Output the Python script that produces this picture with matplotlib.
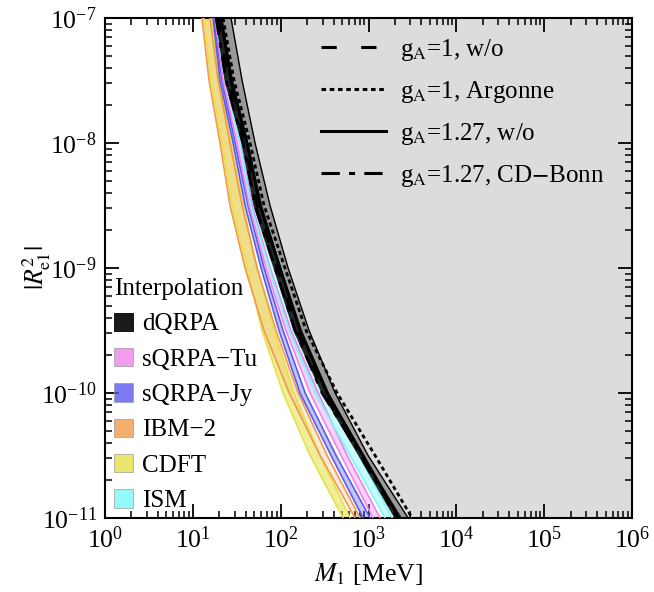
import matplotlib
matplotlib.use('Agg')
import matplotlib.pyplot as plt
from matplotlib.lines import Line2D
from matplotlib.patches import Patch

plt.rcParams['font.family'] = ['Liberation Serif', 'DejaVu Serif']
plt.rcParams['mathtext.fontset'] = 'stix'

# |R^2_e1| levels at which each curve is tabulated
R2 = [1e-7, 3.16e-8, 1e-8, 3.16e-9, 1e-9, 3.16e-10, 1e-10, 3.16e-11, 1e-11]

# M_1 [MeV] of band edges at those levels
cdft_lo = [13.4, 16.1, 21.5, 28.0, 41.5, 61.4, 106.5, 216, 514]
cdft_hi = [16.6, 19.9, 27.2, 37.3, 53.9, 84.1, 142, 281, 617]
ibm_lo = [12.7, 15.3, 20.4, 26.5, 39.3, 64.7, 125, 281, 704]
ibm_hi = [15.7, 19.4, 26.5, 36.4, 53.9, 88.7, 158, 338, 802]
jy_lo = [17.0, 20.4, 28.7, 39.3, 59.8, 95.9, 166, 375, 868]
jy_hi = [17.4, 21.5, 30.3, 42.6, 64.7, 106.5, 190, 428, 1043]
tu_lo = [17.9, 22.1, 31.9, 43.7, 68.2, 115, 216, 488, 1128]
tu_hi = [18.9, 23.9, 35.4, 47.3, 75.7, 131, 267, 571, 1356]
ism_lo = [18.4, 23.3, 34.5, 46.0, 73.8, 125, 247, 617, 1546]
ism_hi = [21.5, 28.0, 42.6, 59.8, 101, 166, 329, 782, 1857]
dq_lo = [17.9, 22.7, 35.4, 48.5, 81.9, 138.5, 289, 761, 1957]
dq_hi = [21.5, 28.7, 42.6, 61.4, 101, 175, 356, 868, 2414]
outer = [27.2, 36.4, 51.1, 75.7, 121.5, 210.6, 417, 990, 2826]

# dQRPA curves for the different g_A / short-range choices
ga1_wo = [19.4, 25.2, 39.3, 53.9, 91.0, 154, 312, 802, 2118]
ga1_argonne = [22.1, 29.5, 44.8, 64.7, 112, 195, 439, 1189, 3138]
ga127_wo = [21.0, 27.2, 41.5, 58.3, 98.5, 166, 338, 868, 2232]
ga127_cdbonn = [18.4, 23.9, 37.3, 51.1, 86.4, 146, 296, 824, 2118]

models = ['dQRPA', 'sQRPA\u2212Tu', 'sQRPA\u2212Jy', 'IBM\u22122', 'CDFT', 'ISM']
model_colors = ['#1a1a1a', '#ee82ee', '#5a5af0', '#f09a4a', '#e6e04a', '#78f8f8']

fig = plt.figure(figsize=(6.54, 5.92), dpi=100)
ax = fig.add_axes([105 / 654, 1 - 518 / 592, 527 / 654, 500 / 592])

# excluded region and the dark edge band
ax.fill_betweenx(R2, outer, 1e7, color='#dcdcdc', lw=0, zorder=0)
ax.fill_betweenx(R2, dq_hi, outer, color='#999999', lw=0, zorder=1)
ax.plot(outer, R2, color='k', lw=1.0, zorder=6)

bands = [(cdft_lo, cdft_hi, model_colors[4], 0.55),
         (ibm_lo, ibm_hi, model_colors[3], 0.2),
         (jy_lo, jy_hi, model_colors[2], 0.35),
         (tu_lo, tu_hi, model_colors[1], 0.35),
         (ism_lo, ism_hi, model_colors[5], 0.4)]
for lo, hi, c, a in bands:
    ax.fill_betweenx(R2, lo, hi, color=c, alpha=a, lw=0, zorder=2)
    ax.plot(lo, R2, color=c, lw=1.2, zorder=3)
    ax.plot(hi, R2, color=c, lw=1.2, zorder=3)

ax.fill_betweenx(R2, dq_lo, dq_hi, color=model_colors[0], alpha=0.95, lw=0, zorder=4)

styles = [(ga1_wo, (0, (5, 8)), r'g$_{\rm A}$=1, w/o'),
          (ga1_argonne, (0, (1.5, 1.2)), r'g$_{\rm A}$=1, Argonne'),
          (ga127_wo, '-', r'g$_{\rm A}$=1.27, w/o'),
          (ga127_cdbonn, (0, (6, 3, 2, 3)), r'g$_{\rm A}$=1.27, CD$-$Bonn')]
line_handles = []
for m, ls, lab in styles:
    ax.plot(m, R2, color='k', lw=2.0, ls=ls, zorder=5)
    line_handles.append(Line2D([], [], color='k', lw=2.2, ls=ls, label=lab))

ax.set_xscale('log')
ax.set_yscale('log')
ax.set_xlim(1, 1e6)
ax.set_ylim(1e-11, 1e-7)

ax.tick_params(which='both', direction='in', top=True, right=True, labelsize=18.5)
ax.tick_params(which='major', length=10, width=1.3, pad=6)
ax.tick_params(which='minor', length=5, width=1.1)
for s in ax.spines.values():
    s.set_linewidth(1.5)

ax.set_xlabel(r'$M_1$ [MeV]', fontsize=18.5)
ax.set_ylabel(r'$|R^2_{\rm e1}|$', fontsize=18.5)
ax.xaxis.set_label_coords(0.5, -0.086)
ax.yaxis.set_label_coords(-0.098, 0.5)

leg1 = ax.legend(handles=line_handles, loc='upper left', bbox_to_anchor=(0.41, 0.962),
                 frameon=False, fontsize=18, handlelength=2.6, handletextpad=0.55,
                 labelspacing=0.64, borderpad=0, borderaxespad=0)
ax.add_artist(leg1)

patches = [Patch(facecolor=c, edgecolor='#999999' if i else 'k', lw=0.6, alpha=1.0 if i == 0 else 0.8)
           for i, c in enumerate(model_colors)]
leg2 = ax.legend(patches, models, loc='upper left', bbox_to_anchor=(0.018, 0.48),
                 frameon=False, fontsize=18, title='Interpolation', title_fontsize=18,
                 handlelength=0.75, handleheight=0.75, handletextpad=0.35,
                 labelspacing=0.5, borderpad=0, borderaxespad=0, alignment='left')

fig.savefig('out.png', dpi=100)
